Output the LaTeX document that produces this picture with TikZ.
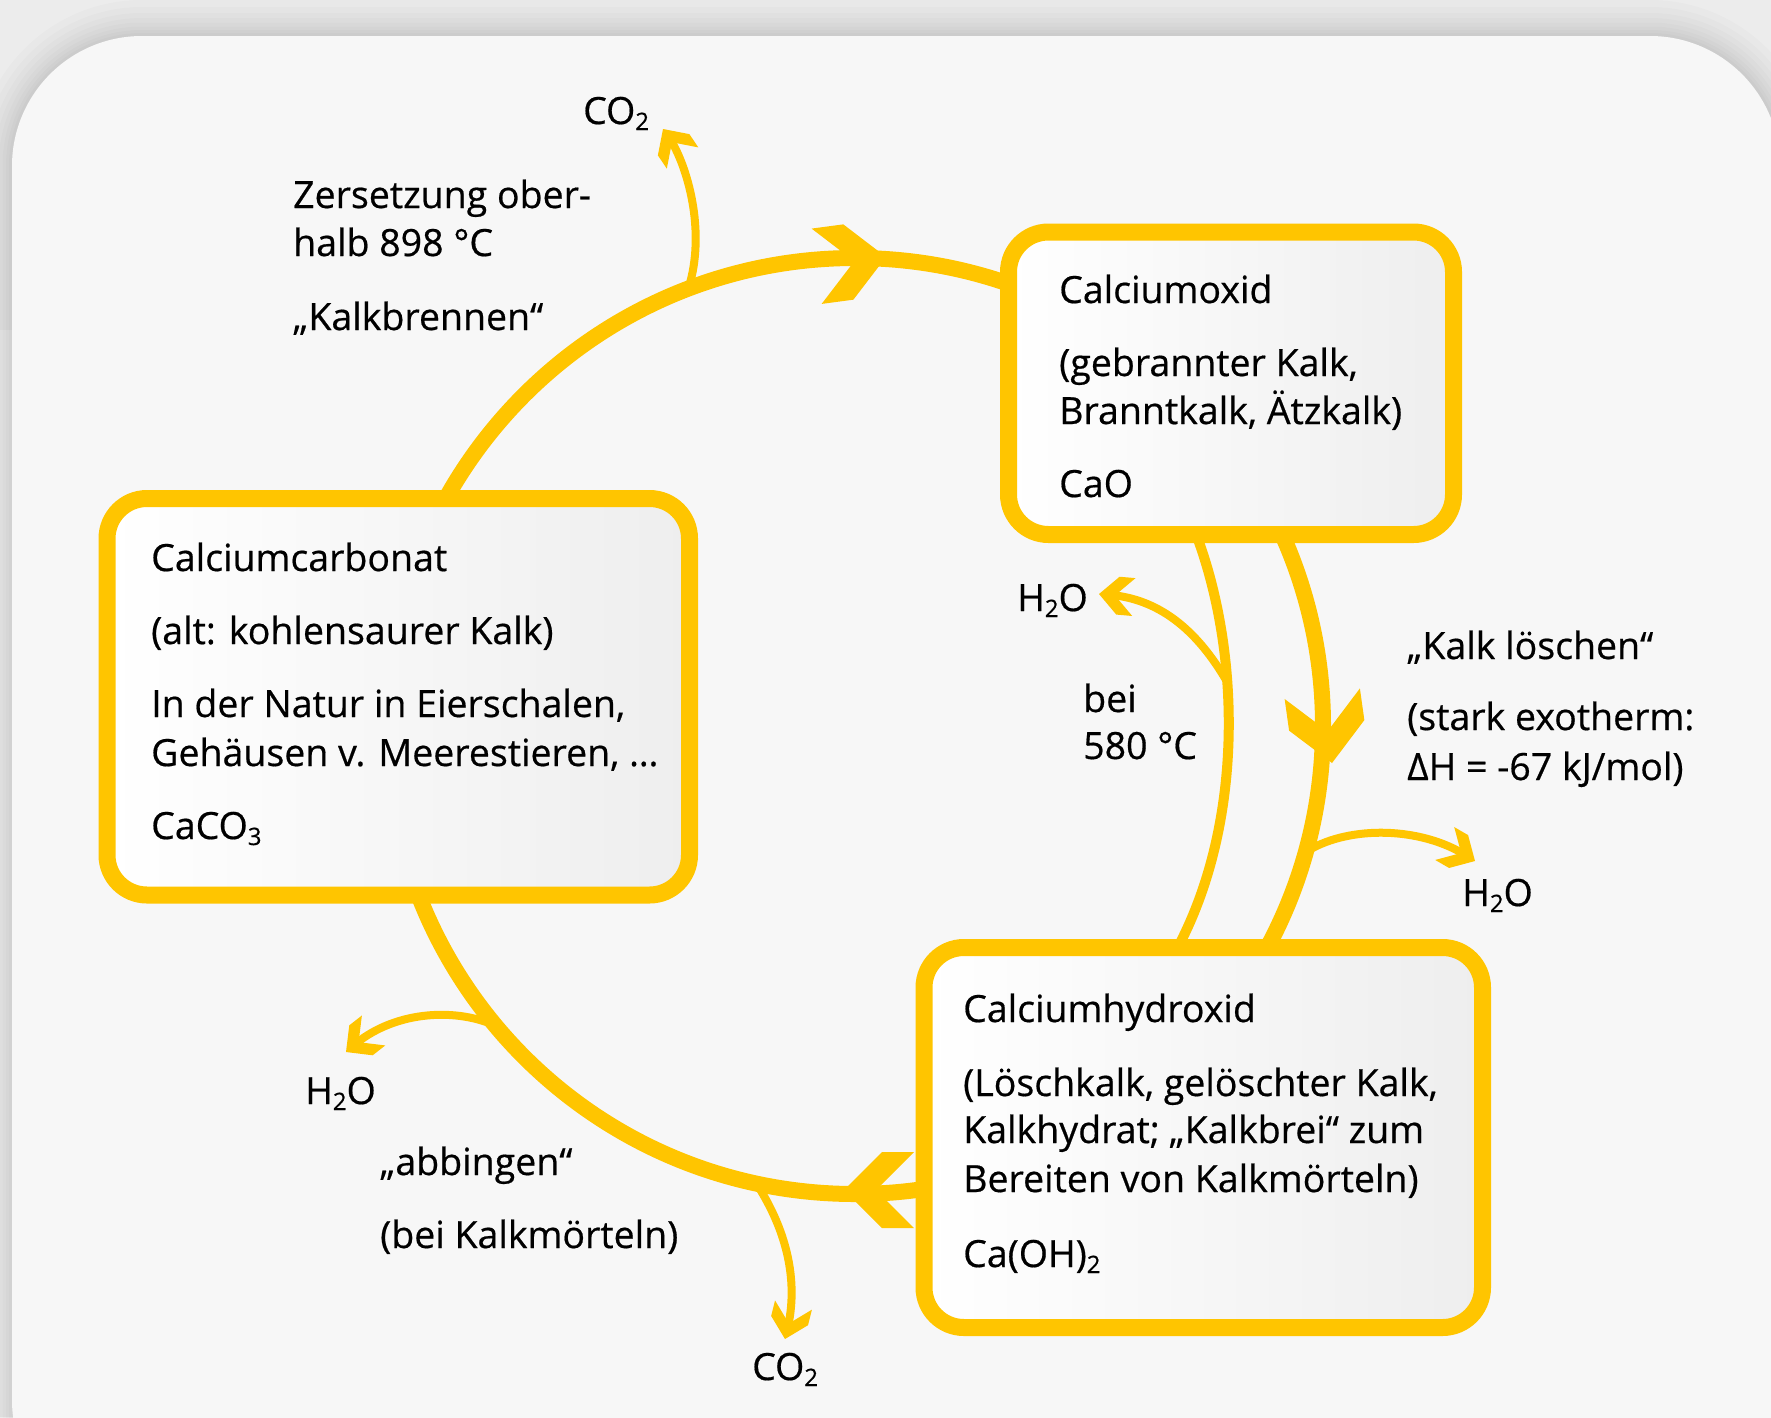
\documentclass[tikz,border=0pt]{standalone}
\usepackage{fontspec}
\setmainfont{Open Sans}
\usetikzlibrary{calc}
\definecolor{ylw}{HTML}{FFC500}
\definecolor{boxgray}{HTML}{EEEEEE}
\definecolor{panelc}{HTML}{F7F7F7}
\definecolor{bgtop}{HTML}{ECECEC}
\definecolor{bgbot}{HTML}{F2F2F2}
\definecolor{txtc}{HTML}{000000}
\newcommand\chemsub[1]{\raisebox{-6pt}{\fontsize{24}{24}\selectfont #1}}
\tikzset{
 cbox/.style={draw=ylw, line width=17pt, rounded corners=40pt, left color=white, right color=boxgray, inner sep=0pt},
 lbl/.style={font=\fontsize{37.5}{45}\selectfont\addfontfeature{FakeBold=0.5}, text=txtc, inner sep=0pt, anchor=base west},
 chev/.pic={\fill[ylw] (0,0) -- (-38,-38) -- (-70,-38) -- (-32,0) -- (-70,38) -- (-38,38) -- cycle;},
 sidearrow/.style={draw=ylw, line width=8pt, shorten >=9pt},
}
\begin{document}
\begin{tikzpicture}[x=1pt,y=-1pt]
\useasboundingbox (0,0) rectangle (1771,1417);
\clip (0,0) rectangle (1771,1417);
% background
\fill[bgbot] (0,0) rectangle (1771,1417);
\fill[bgtop] (0,0) rectangle (1771,330);
\foreach \w in {72,58,46,36,27,19,12,6}{
  \draw[black, opacity=0.014, line width=\w pt, rounded corners=130pt] (12,1530) -- (12,36) -- (1780,36) -- (1780,1530);
}
\fill[panelc, rounded corners=130pt] (12,1530) -- (12,36) -- (1780,36) -- (1780,1530) -- cycle;

% main cycle
\coordinate (cc) at (855,726);
\draw[ylw, line width=16pt] (cc) circle[radius=468];

% inner arc (bei 580 C)
\coordinate (i1) at (1196,534);
\coordinate (i2) at (1178,947);
\draw[ylw, line width=10pt] (i1) .. controls (1240,650) and (1245,820) .. (i2);

% side arrows
\coordinate (a1s) at (690,283);  \coordinate (a1e) at (663,129);
\draw[sidearrow] (a1s) .. controls (706,225) and (685,160) .. (a1e);
\pic[rotate=124, scale=0.5] at (a1e) {chev};

\coordinate (a2s) at (1226,680); \coordinate (a2e) at (1099,594);
\draw[sidearrow] (a2s) .. controls (1192,622) and (1152,598) .. (a2e);
\pic[rotate=175, scale=0.5] at (a2e) {chev};

\coordinate (a3s) at (1309,850); \coordinate (a3e) at (1475,861);
\draw[sidearrow] (a3s) .. controls (1350,826) and (1420,826) .. (a3e);
\pic[rotate=-30, scale=0.5] at (a3e) {chev};

\coordinate (a4s) at (494,1025); \coordinate (a4e) at (346,1052);
\draw[sidearrow] (a4s) .. controls (452,1007) and (392,1012) .. (a4e);
\pic[rotate=-142, scale=0.5] at (a4e) {chev};

\coordinate (a5s) at (758,1186); \coordinate (a5e) at (785,1339);
\draw[sidearrow] (a5s) .. controls (792,1240) and (797,1290) .. (a5e);
\pic[rotate=-104, scale=0.5] at (a5e) {chev};

% big chevrons on the cycle
\pic[rotate=7.6] at (886,257) {chev};
\pic[rotate=-82] at (1332,763) {chev};
\pic[rotate=180] at (844,1190) {chev};

% boxes
\node[cbox, minimum width=445pt, minimum height=302.5pt] (cao) at (1231,383.25) {};
\node[cbox, minimum width=582.5pt, minimum height=396.5pt] (caco) at (398.25,696.75) {};
\node[cbox, minimum width=558.5pt, minimum height=380pt] (caoh) at (1203.25,1137.5) {};

% box texts
\node[lbl] (t1) at (1059,303) {Calciumoxid};
\node[lbl] (t2) at (1059,376) {(gebrannter Kalk,};
\node[lbl] (t3) at (1059,424) {Branntkalk, Ätzkalk)};
\node[lbl] (t4) at (1059,497) {CaO};

\node[lbl] (u1) at (151,571) {Calciumcarbonat};
\node[lbl] (u2) at (151,644) {(alt: kohlensaurer Kalk)};
\node[lbl] (u3) at (151,717) {In der Natur in Eierschalen,};
\node[lbl] (u4) at (151,766) {Gehäusen v. Meerestieren, …};
\node[lbl] (u5) at (151,839) {CaCO\chemsub{3}};

\node[lbl] (v1) at (963,1022) {Calciumhydroxid};
\node[lbl] (v2) at (963,1096) {(Löschkalk, gelöschter Kalk,};
\node[lbl] (v3) at (963,1143) {Kalkhydrat; „Kalkbrei“ zum};
\node[lbl] (v4) at (963,1192) {Bereiten von Kalkmörteln)};
\node[lbl] (v5) at (963,1267) {Ca(OH)\chemsub{2}};

% outer labels
\node[lbl] (w1) at (583,124) {CO\chemsub{2}};
\node[lbl] (w2) at (293,208) {Zersetzung ober-};
\node[lbl] (w3) at (293,256) {halb 898 °C};
\node[lbl] (w4) at (293,330) {„Kalkbrennen“};
\node[lbl] (w5) at (1017,611) {H\chemsub{2}O};
\node[lbl] (w6) at (1083,712) {bei};
\node[lbl] (w7) at (1083,759) {580 °C};
\node[lbl] (w8) at (1407,659) {„Kalk löschen“};
\node[lbl] (w9) at (1407,730) {(stark exotherm:};
\node[lbl] (w10) at (1407,780) {ΔH = -67 kJ/mol)};
\node[lbl] (w11) at (1462,906) {H\chemsub{2}O};
\node[lbl] (w12) at (305,1104) {H\chemsub{2}O};
\node[lbl] (w13) at (380,1175) {„abbingen“};
\node[lbl] (w14) at (380,1248) {(bei Kalkmörteln)};
\node[lbl] (w15) at (752,1380) {CO\chemsub{2}};
\end{tikzpicture}
\end{document}
